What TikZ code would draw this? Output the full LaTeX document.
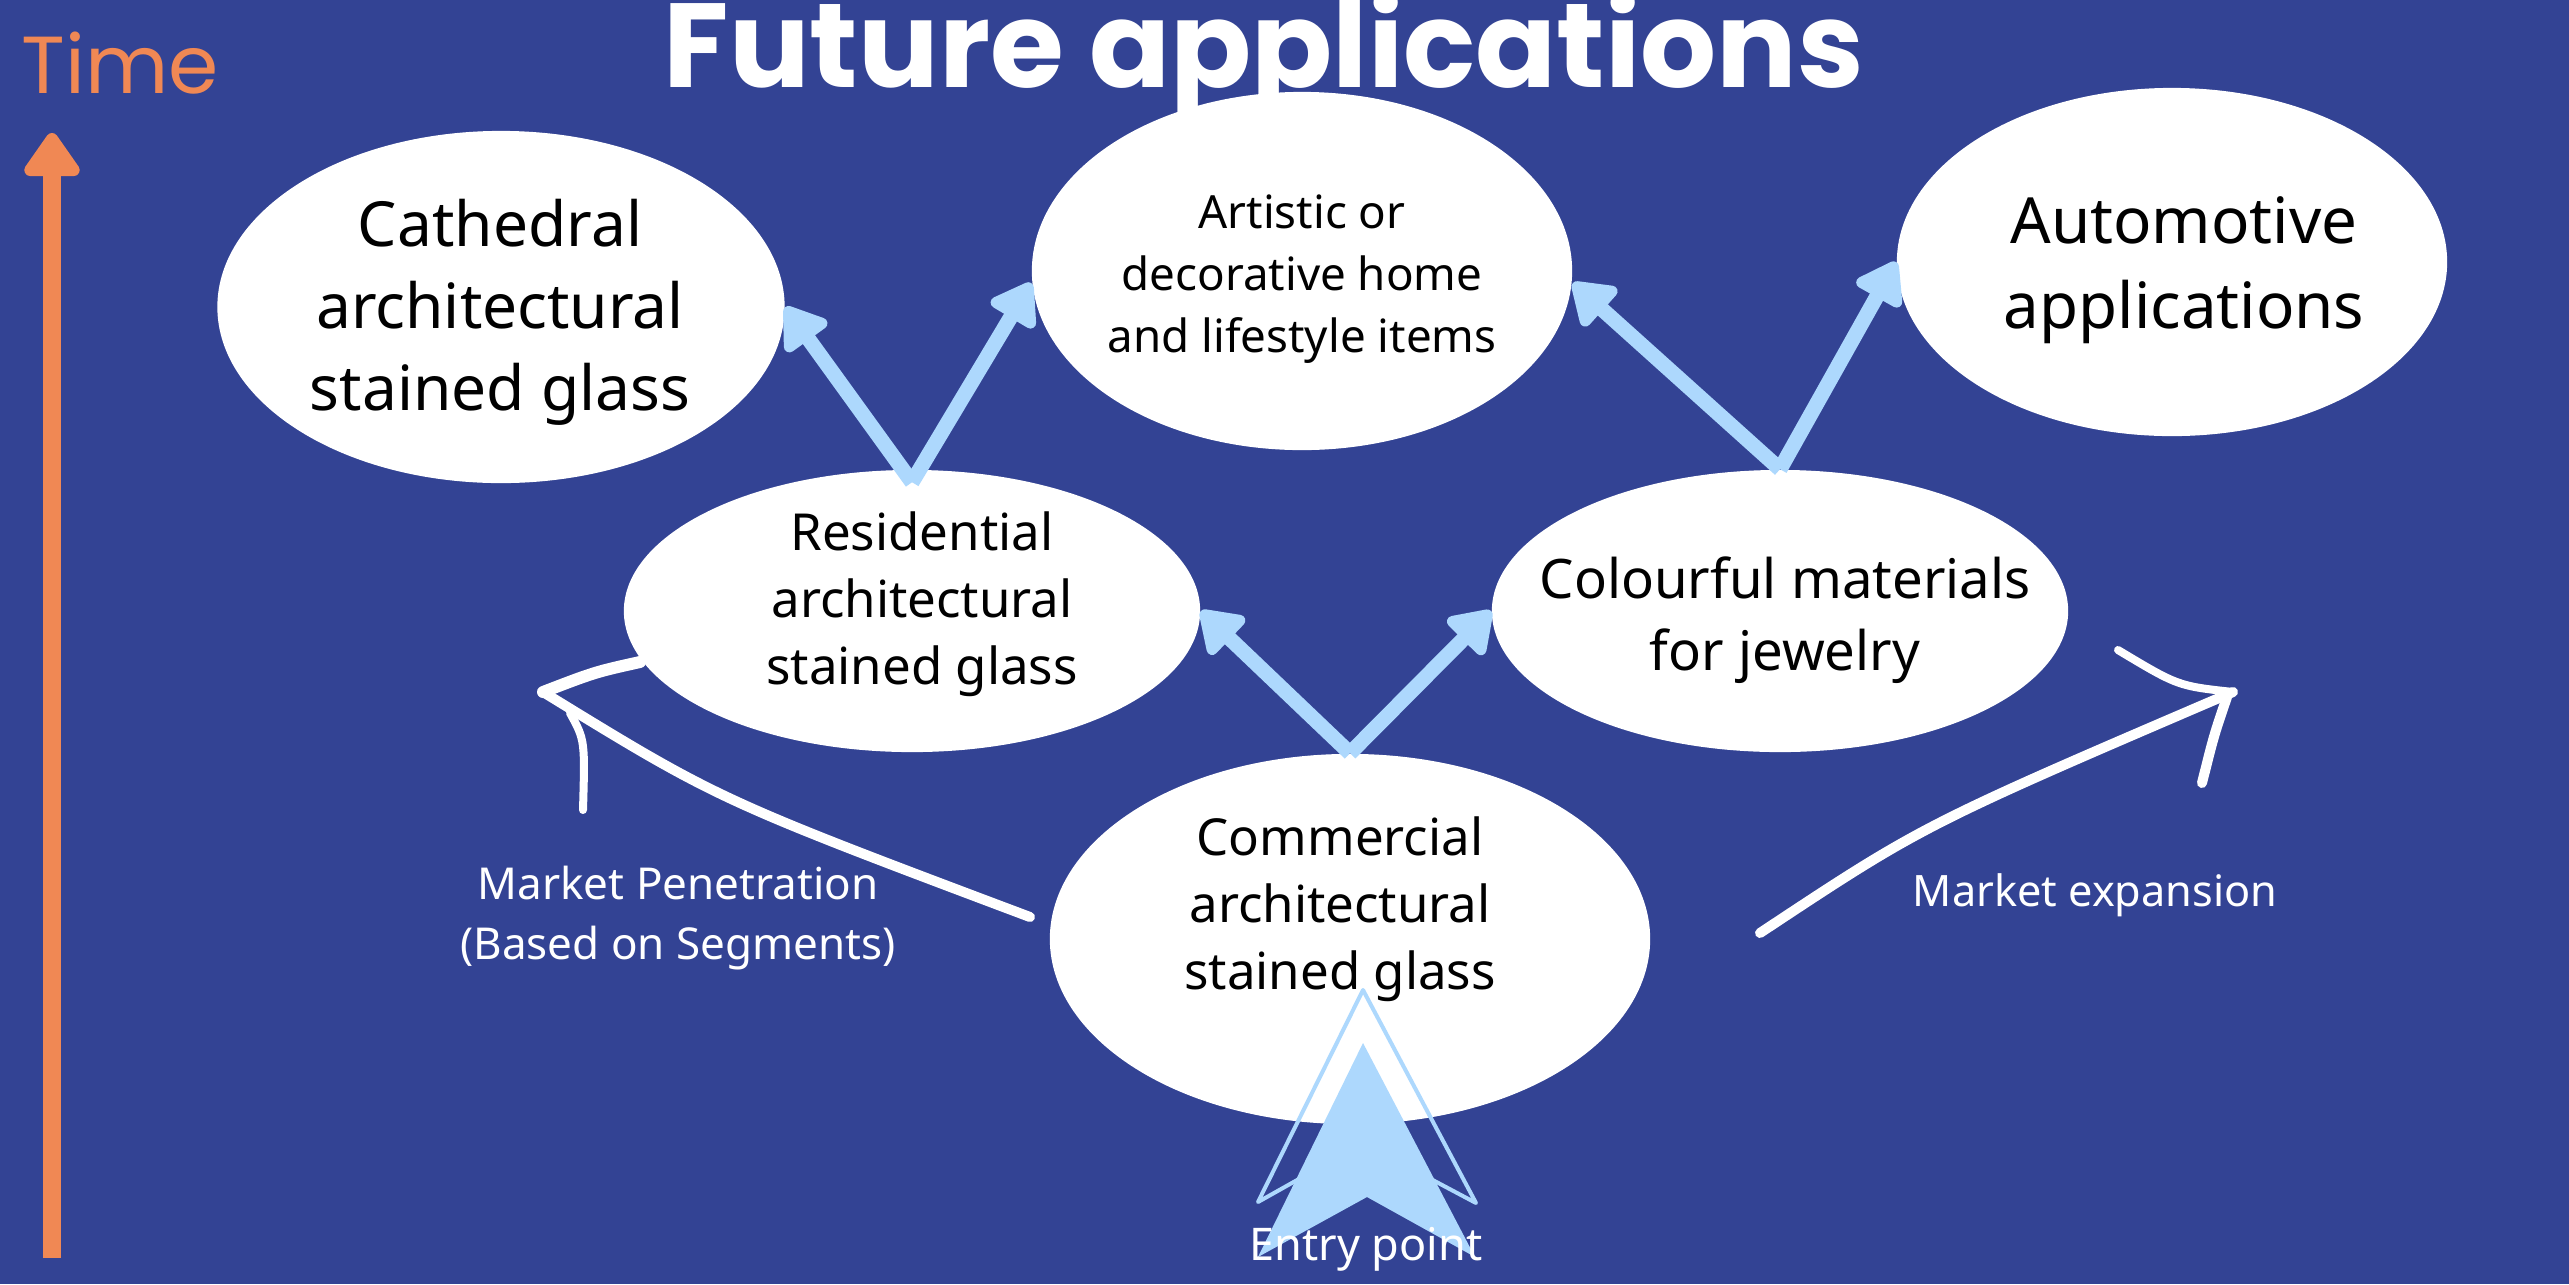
\documentclass[tikz,border=0pt]{standalone}
\usepackage{fontspec}
\setmainfont{Noto Sans}
\newfontfamily\titlefont{Poppins}
\usetikzlibrary{shapes.geometric, arrows.meta, positioning}

\definecolor{bgblue}{RGB}{51, 67, 148}
\definecolor{arrowblue}{RGB}{173, 216, 253}
\definecolor{timeorange}{RGB}{240, 136, 84}

\tikzset{
  segment/.style={ellipse, fill=white, inner sep=0pt},
  segtext/.style={align=center, text=black, inner sep=0pt},
  growth/.style={arrowblue, line width=0.15cm, -{Triangle[round, length=0.45cm, width=0.58cm]}},
  timearrow/.style={timeorange, line width=0.17cm, -{Triangle[round, length=0.48cm, width=0.63cm]}},
  handarrow/.style={white, line width=0.1cm, line cap=round, line join=round},
  notelabel/.style={text=white, font=\fontsize{12.5}{17}\selectfont, align=center, inner sep=0pt}
}

\begin{document}
\begin{tikzpicture}[x=0.01cm, y=-0.01cm]
  % Background
  \fill[bgblue] (0,0) rectangle (2569,1284);
  \useasboundingbox (0,0) rectangle (2569,1284);

  % Title
  \node[font=\titlefont\bfseries\fontsize{34}{40}\selectfont, text=white, anchor=base, inner sep=0pt] (title) at (1264,87) {Future applications};

  % Time axis
  \node[font=\titlefont\fontsize{23}{28}\selectfont, text=timeorange, anchor=base west, inner sep=0pt] (time) at (21,93) {Time};
  \coordinate (tbottom) at (52,1258);
  \coordinate (ttop) at (52,133);
  \draw[timearrow] (tbottom) -- (ttop);

  % Segments
  \node[segment, minimum width=5.67cm, minimum height=3.52cm] (cath) at (501,307) {};
  \node[segment, minimum width=5.4cm, minimum height=3.58cm] (art) at (1302,271) {};
  \node[segment, minimum width=5.5cm, minimum height=3.48cm] (auto) at (2172,262) {};
  \node[segment, minimum width=5.76cm, minimum height=2.82cm] (resi) at (912,611) {};
  \node[segment, minimum width=5.76cm, minimum height=2.82cm] (colour) at (1780,611) {};
  \node[segment, minimum width=6cm, minimum height=3.7cm] (comm) at (1350,939) {};

  % Segment texts
  \node[segtext, font=\fontsize{17.7}{23.3}\selectfont] (cathlbl) at (500,312) {Cathedral\\architectural\\stained glass};
  \node[segtext, font=\fontsize{13}{17.7}\selectfont] (artlbl) at (1302,279) {Artistic or\\decorative home\\and lifestyle items};
  \node[segtext, font=\fontsize{18.1}{24.2}\selectfont] (autolbl) at (2184,270) {Automotive\\applications};
  \node[segtext, font=\fontsize{14.5}{19.1}\selectfont] (resilbl) at (922,604) {Residential\\architectural\\stained glass};
  \node[segtext, font=\fontsize{15.5}{20.5}\selectfont] (colourlbl) at (1785,620) {Colourful materials\\for jewelry};
  \node[segtext, font=\fontsize{14.5}{19.1}\selectfont] (commlbl) at (1340,909) {Commercial\\architectural\\stained glass};

  % Growth paths
  \draw[growth] (comm.north) -- (resi.east);
  \draw[growth] (comm.north) -- (colour.west);
  \draw[growth] ([yshift=-0.13cm]resi.north) -- (cath.east);
  \draw[growth] ([yshift=-0.13cm]resi.north) -- ([yshift=-0.12cm]art.west);
  \draw[growth] (colour.north) -- ([yshift=-0.12cm]art.east);
  \draw[growth] (colour.north) -- (auto.west);

  % Market penetration (hand drawn)
  \coordinate (pstart) at (1030,917);
  \coordinate (ptip) at (543,692);
  \draw[handarrow] (pstart) .. controls (719,800) .. (ptip);
  \draw[handarrow, line width=0.12cm] (ptip) .. controls (595,672) .. (640,662);
  \draw[handarrow, line width=0.08cm] (570,713) .. controls (585,740) .. (583,810);
  \node[notelabel] (penetr) at (678,918) {Market Penetration\\(Based on Segments)};

  % Market expansion (hand drawn)
  \coordinate (estart) at (1760,933);
  \coordinate (etip) at (2233,692);
  \draw[handarrow] (estart) .. controls (1923,825) .. (etip);
  \draw[handarrow, line width=0.08cm] (etip) .. controls (2178,686) .. (2118,650);
  \draw[handarrow, line width=0.1cm] (2227,697) .. controls (2214,735) .. (2202,783);
  \node[notelabel, font=\fontsize{12.3}{17}\selectfont, anchor=base] (expan) at (2095,906) {Market expansion};

  % Entry point
  \draw[arrowblue, line width=0.04cm, line join=round] (1363,990) -- (1476,1203) -- (1363,1143) -- (1258,1202) -- cycle;
  \fill[arrowblue] (1363,1043) -- (1475,1257) -- (1367,1197) -- (1258,1257) -- cycle;
  \node[notelabel, font=\fontsize{12.8}{17}\selectfont, anchor=base] (entry) at (1366,1260) {Entry point};
\end{tikzpicture}
\end{document}
